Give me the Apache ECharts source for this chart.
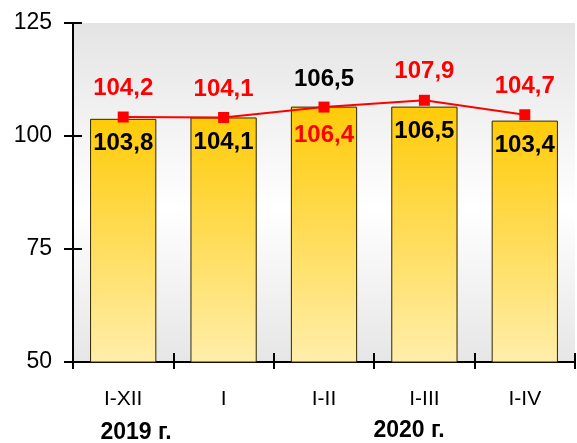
<!DOCTYPE html>
<html><head><meta charset="utf-8">
<script src="https://cdn.jsdelivr.net/npm/echarts@6/dist/echarts.min.js"></script>
<style>html,body{margin:0;padding:0;background:#fff}#c{width:577px;height:443px}</style>
</head><body><div id="c"></div>
<script>
var categories = ['I-XII', 'I', 'I-II', 'I-III', 'I-IV'];
var barValues = [103.8, 104.1, 106.5, 106.5, 103.4];
var lineValues = [104.2, 104.1, 106.4, 107.9, 104.7];
var yTicks = [50, 75, 100, 125];
var yearLabels = ['2019 г.', '2020 г.'];

var FONT = '"Liberation Sans", Arial, sans-serif';
function fmt(v){ return String(v.toFixed(1)).replace('.', ','); }

var chart = echarts.init(document.getElementById('c'), null, {renderer:'canvas'});

var barData = barValues.map(function(v, i){
  var d = {value: v};
  if (i === 2) d.label = {position: 'top', distance: 15};
  return d;
});
var lineData = lineValues.map(function(v, i){
  var d = {value: v};
  if (i === 2) d.label = {position: 'bottom', distance: 11};
  return d;
});

chart.setOption({
  animation: false,
  grid: {
    left: 73, right: 2, top: 23, bottom: 81, show: true, borderWidth: 0,
    backgroundColor: new echarts.graphic.LinearGradient(0, 0, 0, 1, [
      {offset: 0, color: '#e4e4e4'},
      {offset: 0.55, color: '#ffffff'},
      {offset: 1, color: '#e6e6e6'}
    ])
  },
  xAxis: [{
    type: 'category', data: categories, boundaryGap: true,
    axisLine: {lineStyle: {color: '#000', width: 2}},
    axisTick: {show: true, interval: 0, length: 7, lineStyle: {color: '#000', width: 2}},
    axisLabel: {color: '#000', fontSize: 21, fontFamily: FONT, margin: 27, interval: 0},
    splitLine: {show: false}
  }, {
    type: 'category', data: categories, boundaryGap: true, position: 'bottom',
    axisLine: {show: false},
    axisTick: {show: true, inside: true, interval: 0, length: 9, lineStyle: {color: '#000', width: 2}},
    axisLabel: {show: false}
  }],
  yAxis: [{
    type: 'value', min: yTicks[0], max: yTicks[yTicks.length - 1], interval: 25,
    axisLine: {show: true, lineStyle: {color: '#000', width: 2}},
    axisTick: {show: true, length: 9, lineStyle: {color: '#000', width: 2}},
    axisLabel: {color: '#000', fontSize: 23, fontFamily: FONT, margin: 21},
    splitLine: {show: false}
  }, {
    type: 'value', min: yTicks[0], max: yTicks[yTicks.length - 1], interval: 25, position: 'left',
    axisLine: {show: false},
    axisTick: {show: true, inside: true, length: 9, lineStyle: {color: '#000', width: 2}},
    axisLabel: {show: false},
    splitLine: {show: false}
  }],
  series: [{
    type: 'bar', data: barData, barCategoryGap: '34%', z: 2,
    itemStyle: {
      color: new echarts.graphic.LinearGradient(0, 0, 0, 1, [
        {offset: 0, color: '#ffcb08'},
        {offset: 1, color: '#ffeeab'}
      ]),
      borderColor: '#2e2600', borderWidth: 1
    },
    label: {
      show: true, position: 'insideTop', distance: 13, color: '#000',
      fontSize: 24, fontWeight: 'bold', fontFamily: FONT,
      formatter: function(p){ return fmt(p.value); }
    }
  }, {
    type: 'line', data: lineData, z: 5,
    symbol: 'rect', symbolSize: 11,
    lineStyle: {color: '#ff0000', width: 2},
    itemStyle: {color: '#ff0000'},
    label: {
      show: true, position: 'top', distance: 11, color: '#ff0000',
      fontSize: 24, fontWeight: 'bold', fontFamily: FONT,
      formatter: function(p){ return fmt(p.value); }
    }
  }],
  graphic: [
    {type: 'text', x: 136, y: 433, style: {text: yearLabels[0], x: 0, y: 0, fill: '#000', font: 'bold 23px ' + FONT, textAlign: 'center', textVerticalAlign: 'middle'}},
    {type: 'text', x: 409, y: 431, style: {text: yearLabels[1], x: 0, y: 0, fill: '#000', font: 'bold 23px ' + FONT, textAlign: 'center', textVerticalAlign: 'middle'}}
  ]
});
</script></body></html>
